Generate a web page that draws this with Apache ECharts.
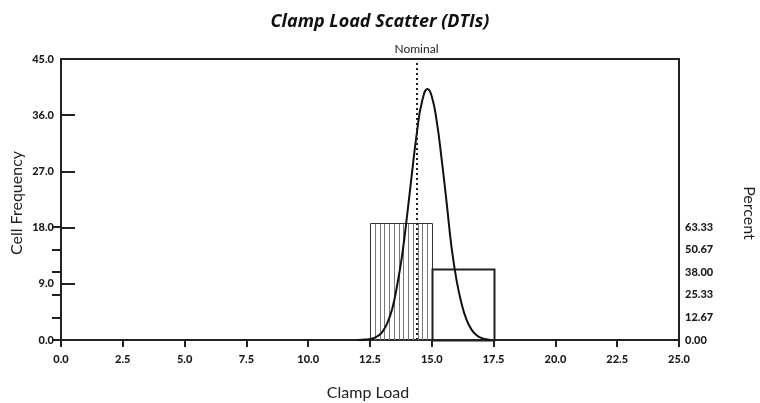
<!DOCTYPE html>
<html>
<head>
<meta charset="utf-8">
<script src="https://cdn.jsdelivr.net/npm/echarts@6/dist/echarts.min.js"></script>
<style>html,body{margin:0;padding:0;background:#fff}#c{width:760px;height:403px}</style>
</head>
<body>
<div id="c"></div>
<script>
// ---- data ----
const binStarts = [12.5, 15.0];
const binEnds = [15.0, 17.5];
const binCounts = [18.7, 11.3];
const curveX = [12.0, 12.2, 12.4, 12.6, 12.8, 13.0, 13.2, 13.4, 13.6, 13.8, 14.0, 14.2, 14.4, 14.6, 14.83, 15.0, 15.2, 15.4, 15.6, 15.8, 16.0, 16.2, 16.4, 16.6, 16.8, 17.0, 17.2, 17.4];
const curveY = [0.0, 0.05, 0.1, 0.25, 0.6, 1.3, 2.7, 5.0, 8.8, 13.6, 19.9, 26.8, 33.3, 38.1, 40.2, 39.0, 35.0, 28.9, 22.0, 14.8, 9.6, 5.9, 3.3, 1.7, 0.8, 0.35, 0.12, 0.0];
const nominal = 14.38;
const xTicks = [0, 25, 2.5];      // min, max, step
const yLeftTicks = [0, 45, 9];
const yRightTicks = [0, 190/3, 38/3];

const FONT = 'Lato';
const TFONT = '"Open Sans"';
const chart = echarts.init(document.getElementById('c'));

const bars = binStarts.map((s, i) => [s, binEnds[i], binCounts[i]]);
const curve = curveX.map((x, i) => [x, curveY[i]]);

function crisp(v){ return Math.round(v) + 0.5; }

const tickLabel = {fontFamily: FONT, fontWeight: 900, fontSize: 11, color: '#1a1a1a'};

chart.setOption({
  animation: false,
  title: {
    text: 'Clamp Load Scatter (DTIs)', left: 'center', top: 8,
    textStyle: {fontFamily: TFONT, fontStyle: 'italic', fontWeight: 'bold', fontSize: 18, color: '#111'}
  },
  grid: [
    {left: 61, right: 81, top: 59, bottom: 63, show: true, borderColor: '#222', borderWidth: 2},
    {left: 61, right: 81, top: 227, bottom: 63}
  ],
  xAxis: [
    {type: 'value', gridIndex: 0, min: xTicks[0], max: xTicks[1], interval: xTicks[2],
     axisLine: {show: true, lineStyle: {color: '#222', width: 2}},
     axisTick: {show: true, inside: false, length: 7, lineStyle: {color: '#222', width: 2}},
     axisLabel: Object.assign({formatter: v => v.toFixed(1), margin: 14}, tickLabel),
     splitLine: {show: false}},
    {type: 'value', gridIndex: 1, min: 0, max: 25, show: false}
  ],
  yAxis: [
    {type: 'value', gridIndex: 0, min: yLeftTicks[0], max: yLeftTicks[1], interval: yLeftTicks[2],
     axisLine: {show: true, lineStyle: {color: '#222', width: 2}},
     axisTick: {show: true, inside: true, length: 14, lineStyle: {color: '#222', width: 2}},
     axisLabel: Object.assign({formatter: v => v.toFixed(1), margin: 7}, tickLabel),
     splitLine: {show: false}},
    {type: 'value', gridIndex: 1, position: 'right', min: yRightTicks[0], max: yRightTicks[1], interval: yRightTicks[2],
     axisLine: {show: false},
     axisTick: {show: true, inside: true, length: 9, lineStyle: {color: '#222', width: 2}},
     axisLabel: Object.assign({formatter: v => v.toFixed(2), margin: 6}, tickLabel),
     splitLine: {show: false}}
  ],
  graphic: [
    {type: 'text', x: 17, y: 203, rotation: Math.PI/2,
     style: {text: 'Cell Frequency', font: '16px ' + FONT, fill: '#222', align: 'center', verticalAlign: 'middle'}},
    {type: 'text', x: 368, y: 393, style: {text: 'Clamp Load', font: '16px ' + FONT, fill: '#222', align: 'center', verticalAlign: 'middle'}},
    {type: 'text', x: 749, y: 213, rotation: -Math.PI/2,
     style: {text: 'Percent', font: '16px ' + FONT, fill: '#222', align: 'center', verticalAlign: 'middle'}}
  ],
  series: [
    {
      type: 'custom', xAxisIndex: 0, yAxisIndex: 0, z: 2,
      data: bars,
      renderItem: function(params, api) {
        const x0 = api.value(0), x1 = api.value(1), v = api.value(2);
        const p0 = api.coord([x0, 0]);
        const p1 = api.coord([x1, v]);
        const children = [];
        const hatched = params.dataIndex === 0;
        if (hatched) {
          const n = 13;
          for (let k = 1; k < n; k++) {
            const xx = crisp(p0[0] + (p1[0] - p0[0]) * k / n);
            children.push({type: 'line', shape: {x1: xx, y1: p1[1], x2: xx, y2: p0[1]},
              style: {stroke: '#777', lineWidth: 1}});
          }
        }
        children.push({type: 'rect',
          shape: {x: crisp(p0[0]), y: crisp(p1[1]), width: Math.round(p1[0] - p0[0]), height: Math.round(p0[1] - p1[1])},
          style: {fill: 'none', stroke: hatched ? '#333' : '#222', lineWidth: hatched ? 1 : 2}});
        return {type: 'group', children};
      }
    },
    {
      type: 'line', xAxisIndex: 0, yAxisIndex: 0, z: 3,
      data: curve, smooth: true, symbol: 'none',
      lineStyle: {color: '#111', width: 2},
      markLine: {
        silent: true, symbol: 'none',
        lineStyle: {color: '#222', type: [2, 3], width: 2},
        label: {show: true, position: 'end', formatter: 'Nominal', fontFamily: FONT, fontSize: 12, color: '#222', distance: 4},
        data: [{xAxis: nominal}]
      }
    }
  ]
});
</script>
</body>
</html>
